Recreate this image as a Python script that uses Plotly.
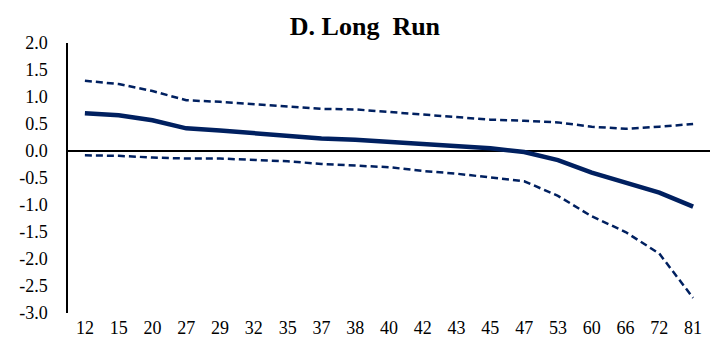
import plotly.graph_objects as go

categories = ["12", "15", "20", "27", "29", "32", "35", "37", "38", "40",
              "42", "43", "45", "47", "53", "60", "66", "72", "81"]
estimate = [0.70, 0.66, 0.57, 0.42, 0.38, 0.33, 0.28, 0.23, 0.21, 0.17,
            0.14, 0.11, 0.05, -0.02, -0.17, -0.40, -0.58, -0.77, -1.03]
upper = [1.30, 1.24, 1.11, 0.94, 0.91, 0.87, 0.83, 0.78, 0.77, 0.72,
         0.67, 0.62, 0.58, 0.56, 0.53, 0.45, 0.41, 0.45, 0.50]
lower = [-0.08, -0.09, -0.12, -0.14, -0.14, -0.17, -0.19, -0.24, -0.27, -0.30,
         -0.37, -0.42, -0.49, -0.56, -0.83, -1.21, -1.50, -1.90, -2.72]
y_ticks = [2.0, 1.5, 1.0, 0.5, 0.0, -0.5, -1.0, -1.5, -2.0, -2.5, -3.0]

navy = "#002060"
font = "Liberation Serif, Times New Roman, serif"

fig = go.Figure()
fig.add_trace(go.Scatter(x=categories, y=upper, mode="lines",
                         line=dict(color=navy, width=2.5, dash="7px,4px")))
fig.add_trace(go.Scatter(x=categories, y=lower, mode="lines",
                         line=dict(color=navy, width=2.5, dash="7px,4px")))
fig.add_trace(go.Scatter(x=categories, y=estimate, mode="lines",
                         line=dict(color=navy, width=4.5)))

fig.update_layout(
    width=710, height=345,
    margin=dict(l=68, r=0, t=43, b=32),
    paper_bgcolor="white", plot_bgcolor="white",
    showlegend=False,
    font=dict(family=font, size=18, color="black"),
    title=dict(text="<b>D. Long  Run</b>", x=0.514, xanchor="center",
               y=1 - 26 / 345, yref="container", yanchor="middle",
               font=dict(family=font, size=26, color="black")),
    xaxis=dict(type="category", range=[-0.5, len(categories) - 0.5],
               showgrid=False, showline=False, zeroline=False,
               ticks="", tickfont=dict(size=18), ticklabelstandoff=2),
    yaxis=dict(range=[-3, 2], tickvals=y_ticks,
               ticktext=[f"{v:.1f}" for v in y_ticks],
               showgrid=False, showline=True, linecolor="black", linewidth=1.5,
               zeroline=True, zerolinecolor="black", zerolinewidth=1.5,
               ticks="", ticklabelstandoff=15, tickfont=dict(size=18)),
)

fig.write_html("out.html")
